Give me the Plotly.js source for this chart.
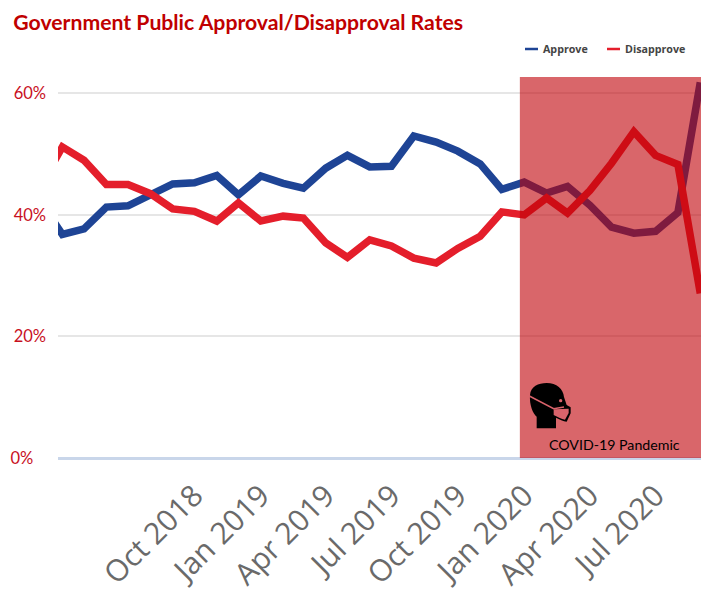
<!DOCTYPE html>
<html>
<head>
<meta charset="utf-8">
<script src="https://cdn.plot.ly/plotly-3.0.1.min.js"></script>
<style>html,body{margin:0;padding:0;background:#fff;overflow:hidden}</style>
</head>
<body>
<div id="chart" style="width:701px;height:589px"></div>
<script>
// Monthly poll readings, one entry per month from March 2018
const months = ['2018-03-01','2018-04-01','2018-05-01','2018-06-01','2018-07-01','2018-08-01','2018-09-01','2018-10-01','2018-11-01','2018-12-01',
  '2019-01-01','2019-02-01','2019-03-01','2019-04-01','2019-05-01','2019-06-01','2019-07-01','2019-08-01','2019-09-01','2019-10-01','2019-11-01','2019-12-01',
  '2020-01-01','2020-02-01','2020-03-01','2020-04-01','2020-05-01','2020-06-01','2020-07-01','2020-08-01','2020-09-01'];
const approve = [42.3,36.8,37.7,41.3,41.5,43.4,45.1,45.3,46.5,43.3,46.4,45.2,44.4,47.7,49.8,47.9,48,53,52,50.5,48.4,44.2,45.4,43.6,44.7,41.6,38,37,37.3,40.4,61.8];
const disapprove = [44.6,51.2,49,45,45,43.5,41,40.6,39,42,39,39.8,39.5,35.4,33,35.9,34.9,32.9,32.1,34.5,36.5,40.5,40,42.8,40.3,44,48.5,53.7,49.8,48.3,27.1];
const tickDates = ['2018-10-01','2019-01-01','2019-04-01','2019-07-01','2019-10-01','2020-01-01','2020-04-01','2020-07-01'];
const tickLabels = ['Oct 2018','Jan 2019','Apr 2019','Jul 2019','Oct 2019','Jan 2020','Apr 2020','Jul 2020'];
const percentTicks = [0,20,40,60];
const percentLabels = ['0%&nbsp;&nbsp;&nbsp;','20%','40%','60%'];
const seriesColors = {Approve: '#1e4495', Disapprove: '#e41e2b'};

// Page pixels to paper fractions for the plot box (58..701 by 77..458)
const fx = x => (x - 58) / 643;
const fy = y => (458 - y) / 381;

// Turns a path written in page pixels into a paper-referenced path
function paperPath(commands) {
  return commands.map(([op, ...pts]) => {
    const out = [];
    for (let i = 0; i < pts.length; i += 2) out.push(fx(pts[i]) + ',' + fy(pts[i + 1]));
    return op + out.join(' ');
  }).join(' ') ;
}

// Head-with-mask pictogram, sketched on a 180-unit grid and scaled into place
const iconX = u => 520 + u / 3;
const iconY = v => 375 + v / 3;
function iconPath(list, close) {
  const scaled = list.map(([op, ...p]) => [op, ...p.map((n, i) => i % 2 ? iconY(n) : iconX(n))]);
  return paperPath(scaled) + (close ? ' Z' : '');
}
const iconFill = '#d9636b';
const iconShapes = [
  {type: 'path', layer: 'above', xref: 'paper', yref: 'paper', fillcolor: '#000', line: {width: 0},
    path: iconPath([['M',30,60],['C',32,35,55,24,80,24],['C',110,24,130,42,132,66],['L',140,90],['L',152,97],['L',152,115],['L',140,140],
      ['C',130,140,118,132,108,128],['L',108,160],['L',50,160],['L',50,125],['C',38,115,28,90,30,60]], true)},
  {type: 'path', layer: 'above', xref: 'paper', yref: 'paper', fillcolor: iconFill, line: {width: 0},
    path: iconPath([['M',101,103],['L',146,101],['L',146,114],['L',135,134],['C',125,132,110,125,101,120]], true)},
  {type: 'path', layer: 'above', xref: 'paper', yref: 'paper', line: {color: iconFill, width: 1.5},
    path: iconPath([['M',28,63],['L',101,101],['L',132,96]], false)},
  {type: 'circle', layer: 'above', xref: 'paper', yref: 'paper', fillcolor: iconFill, line: {width: 0},
    x0: fx(iconX(117)), x1: fx(iconX(127)), y0: fy(iconY(72)), y1: fy(iconY(82))}
];

// Compact legend at the top right: short swatch followed by the series name
const legendRows = [
  {name: 'Approve', swatch: [525, 538], label: 543},
  {name: 'Disapprove', swatch: [607, 620], label: 625}
];
const legendShapes = legendRows.map(r => ({
  type: 'line', xref: 'paper', yref: 'paper', x0: fx(r.swatch[0]), x1: fx(r.swatch[1]), y0: fy(49), y1: fy(49),
  line: {color: seriesColors[r.name], width: 2.5}
}));
const legendLabels = legendRows.map(r => ({
  text: '<b>' + r.name + '</b>', xref: 'paper', yref: 'paper', x: fx(r.label), y: fy(49), xanchor: 'left', yanchor: 'middle',
  showarrow: false, xshift: -2, font: {family: 'Open Sans', size: 10.7, color: '#444'}
}));

const traces = [
  {x: months, y: approve, name: 'Approve', mode: 'lines', line: {color: seriesColors.Approve, width: 7.5}},
  {x: months, y: disapprove, name: 'Disapprove', mode: 'lines', line: {color: seriesColors.Disapprove, width: 7.5}}
];

const layout = {
  width: 701, height: 589,
  margin: {l: 58, r: 0, t: 77, b: 131},
  paper_bgcolor: '#fff', plot_bgcolor: '#fff',
  showlegend: false,
  title: {text: '<b>Government Public Approval/Disapproval Rates</b>', x: 0.019, xanchor: 'left', y: 0.975,
    font: {family: 'Lato', size: 21.2, color: '#c00000'}},
  xaxis: {
    type: 'date', range: ['2018-03-26', '2020-09-02'], automargin: false,
    tickmode: 'array', tickvals: tickDates, ticktext: tickLabels, tickangle: -45,
    tickfont: {family: 'Open Sans', size: 30, color: '#6a6a6a'},
    ticklabelstandoff: 13,
    showgrid: false, zeroline: false, showline: false, ticks: ''
  },
  yaxis: {
    range: [0, 62.7], automargin: false, tickmode: 'array', tickvals: percentTicks, ticktext: percentLabels,
    tickfont: {family: 'Lato', size: 16.5, color: '#c8101e'}, ticklabelstandoff: 11,
    gridcolor: '#e6e6e6', gridwidth: 2, zeroline: true, zerolinecolor: '#c9d6ea', zerolinewidth: 2.5,
    showline: false, ticks: ''
  },
  shapes: [{
    type: 'rect', layer: 'above', xref: 'x', yref: 'paper',
    x0: '2019-12-26', x1: '2020-09-02', y0: 0, y1: 1,
    fillcolor: 'rgb(192,0,6)', opacity: 0.6, line: {width: 0}
  }].concat(iconShapes, legendShapes),
  annotations: [{
    text: 'COVID-19 Pandemic', xref: 'paper', yref: 'paper', x: fx(614.5), y: fy(444),
    xanchor: 'center', yanchor: 'middle', showarrow: false,
    font: {family: 'Lato', size: 14.2, color: '#000'}
  }].concat(legendLabels)
};

Plotly.newPlot('chart', traces, layout, {displayModeBar: false, responsive: false});
</script>
</body>
</html>
